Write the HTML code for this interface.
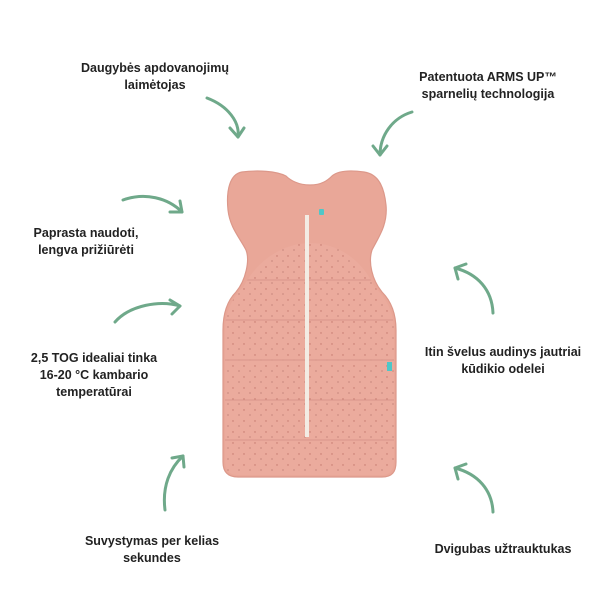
<!DOCTYPE html>
<html><head><meta charset="utf-8"><style>
html,body{margin:0;padding:0;background:#fff;}
svg{display:block}
text{font-family:"Liberation Sans",sans-serif;font-weight:bold;font-size:12.5px;fill:#222;text-anchor:middle}
</style></head><body>
<svg width="600" height="600" viewBox="0 0 600 600" xmlns="http://www.w3.org/2000/svg">
<defs>
<pattern id="dots" width="11" height="11" patternUnits="userSpaceOnUse">
<circle cx="2" cy="3" r="0.7" fill="#a5524a"/><circle cx="8" cy="8" r="0.6" fill="#8a4a44"/>
</pattern>
<clipPath id="body"><path d="M244,286 C256,262 282,243 310,243 C338,243 362,260 374,286 C386,298 394,312 394,330 L394,460 C394,470 390,475 382,475 L238,475 C229,475 225,470 225,460 L225,330 C225,312 232,298 244,286 Z"/></clipPath>
</defs>
<path d="M310,185 C298,185 290,180 286,176 C276,171 258,170 242,172 C230,174 226,190 228,210 C230,228 240,238 246,250 C250,260 246,280 236,292 C228,300 223,312 223,330 L223,462 C223,472 228,477 238,477 L382,477 C392,477 396,472 396,462 L396,330 C396,312 390,300 382,292 C372,280 368,262 372,250 C378,238 388,225 386,205 C384,186 378,174 364,172 C350,170 338,171 332,176 C328,180 322,185 310,185 Z" fill="#e9a798" stroke="#dc988a" stroke-width="1.2"/>
<g clip-path="url(#body)">
<rect x="220" y="240" width="180" height="240" fill="#ebab9d"/>
<rect x="220" y="240" width="180" height="240" fill="url(#dots)" opacity="0.6"/>
<g stroke="#d8968a" stroke-width="1" fill="none">
<path d="M220,280 L400,280"/><path d="M220,320 L400,320"/><path d="M220,360 L400,360"/><path d="M220,400 L400,400"/><path d="M220,440 L400,440"/>
</g>
</g>
<rect x="305" y="215" width="4" height="222" fill="#f3ece4"/>
<rect x="319" y="209" width="5" height="6" rx="1" fill="#4fc7c8"/>
<rect x="387" y="362" width="5" height="9" fill="#4fc7c8"/>
<g stroke="#6fa98a" stroke-width="3" fill="none" stroke-linecap="round" stroke-linejoin="round">
<path d="M207,98 C228,106 240,122 238,137"/><path d="M230,128 L238,137 L244,128"/>
<path d="M412,112 C392,118 380,136 380,155"/><path d="M373,146 L380,155 L387,146"/>
<path d="M123,200 C145,192 168,198 182,212"/><path d="M170,212 L182,212 L180,201"/>
<path d="M115,322 C130,305 160,300 180,306"/><path d="M170,300 L180,306 L172,314"/>
<path d="M165,510 C162,486 170,468 183,456"/><path d="M172,458 L183,456 L184,467"/>
<path d="M493,313 C492,290 478,274 455,268"/><path d="M458,279 L455,268 L466,264"/>
<path d="M493,512 C492,490 478,474 455,468"/><path d="M458,479 L455,468 L466,464"/>
</g>
<text x="155" y="72">Daugybės apdovanojimų</text><text x="155" y="89">laimėtojas</text>
<text x="488" y="81">Patentuota ARMS UP™</text><text x="488" y="98">sparnelių technologija</text>
<text x="86" y="237">Paprasta naudoti,</text><text x="86" y="254">lengva prižiūrėti</text>
<text x="94" y="362">2,5 TOG idealiai tinka</text><text x="94" y="379">16-20 °C kambario</text><text x="94" y="396">temperatūrai</text>
<text x="503" y="356">Itin švelus audinys jautriai</text><text x="503" y="373">kūdikio odelei</text>
<text x="152" y="545">Suvystymas per kelias</text><text x="152" y="562">sekundes</text>
<text x="503" y="553">Dvigubas užtrauktukas</text>
</svg>
</body></html>
